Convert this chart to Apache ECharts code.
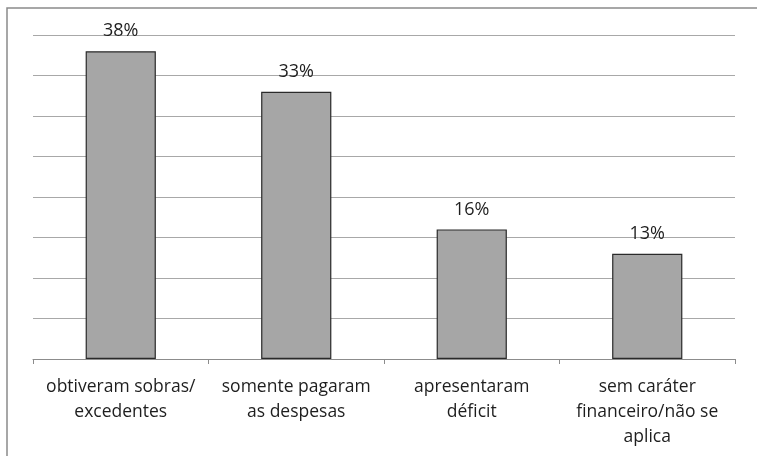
<!DOCTYPE html>
<html><head><meta charset="utf-8">
<script src="https://cdn.jsdelivr.net/npm/echarts@6/dist/echarts.min.js"></script>
<style>html,body{margin:0;padding:0;background:#fff}#c{width:757px;height:456px}</style>
</head><body><div id="c"></div>
<script>
const categories = ['obtiveram sobras/\nexcedentes', 'somente pagaram\nas despesas', 'apresentaram\ndéficit', 'sem caráter\nfinanceiro/não se\naplica'];
const values = [38, 33, 16, 13];

const chart = echarts.init(document.getElementById('c'), null, {renderer: 'canvas'});
chart.setOption({
  animation: false,
  backgroundColor: '#fff',
  textStyle: {fontFamily: 'Open Sans'},
  graphic: [{
    type: 'polyline', shape: {points: [[7, 460], [7, 8], [760, 8]]},
    style: {fill: 'none', stroke: '#8a8a8a', lineWidth: 1.5}, z: -1
  }],
  grid: {left: 33, right: 22, top: 35, bottom: 97, containLabel: false},
  xAxis: {
    type: 'category', data: categories,
    axisLine: {lineStyle: {color: '#8c8c8c', width: 1}},
    axisTick: {show: true, length: 5, lineStyle: {color: '#8c8c8c'}},
    axisLabel: {color: '#1e1e1e', fontSize: 17.5, lineHeight: 25, margin: 16, interval: 0, fontFamily: 'Open Sans'}
  },
  yAxis: {
    type: 'value', min: 0, max: 40, interval: 5,
    axisLine: {show: false}, axisTick: {show: false}, axisLabel: {show: false},
    splitLine: {lineStyle: {color: '#a8a8a8', width: 1.2}}
  },
  series: [{
    type: 'bar', data: values, barWidth: '40%',
    itemStyle: {color: '#a6a6a6', borderColor: '#2a2a2a', borderWidth: 1.2},
    label: {show: true, position: 'top', distance: 11, formatter: p => p.value + '%', color: '#1e1e1e', fontSize: 18, fontFamily: 'Open Sans'}
  }]
});
</script></body></html>
